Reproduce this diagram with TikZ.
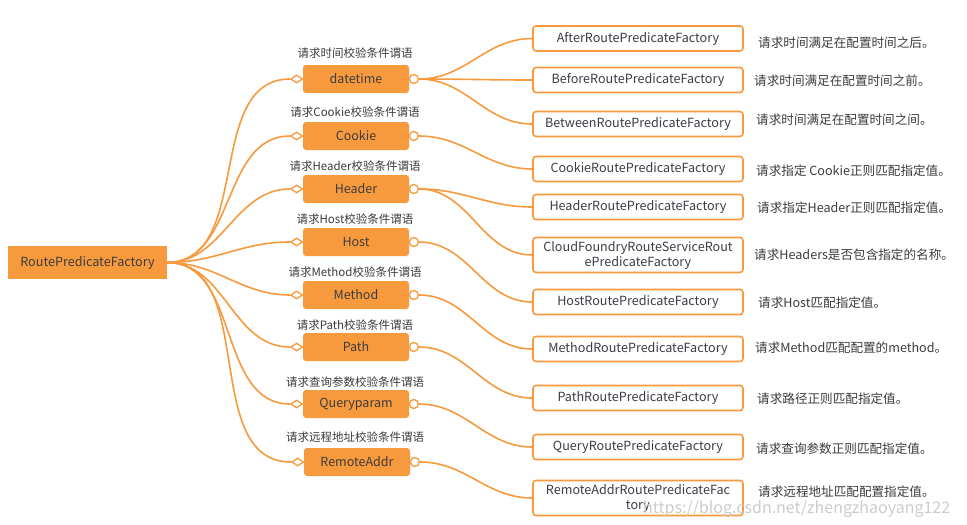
\documentclass[tikz,border=0pt]{standalone}
\usepackage{fontspec}
\setmainfont{Noto Sans CJK SC}
\usetikzlibrary{shapes.geometric,backgrounds}
\definecolor{org}{HTML}{F79A3E}
\definecolor{txt}{HTML}{3C3C3C}
\definecolor{btxt}{HTML}{3A3D48}
\begin{document}
\begin{tikzpicture}[x=1pt,y=-1pt,
 rootbox/.style={fill=org, minimum width=159pt, minimum height=33pt, inner sep=0pt, text=txt, font=\fontsize{12.6}{14}\selectfont},
 midbox/.style={fill=org, rounded corners=3pt, minimum width=106pt, minimum height=28pt, inner sep=0pt, text=txt, font=\fontsize{12.5}{15}\selectfont},
 midlabel/.style={text=txt, font=\fontsize{11.5}{14}\selectfont, inner sep=0pt},
 leafbox/.style={draw=org, line width=1.6pt, fill=white, rounded corners=3pt, minimum width=210pt, minimum height=25pt, inner sep=0pt, align=center, text=btxt, font=\fontsize{12.6}{15}\selectfont},
 desc/.style={anchor=west, text=txt, font=\fontsize{12.6}{14}\selectfont, inner sep=0pt},
 diam/.style={diamond, draw=org, fill=white, line width=1.3pt, minimum width=12pt, minimum height=8pt, inner sep=0pt, anchor=east},
 circ/.style={circle, draw=org, fill=white, line width=1.3pt, minimum size=9pt, inner sep=0pt, anchor=west},
 link/.style={draw=org, line width=1.6pt},
]
\useasboundingbox (0,0) rectangle (967,525);
\begin{scope}[on background layer]
\fill[white] (0,0) rectangle (967,525);
\end{scope}

% root
\node[rootbox] (root) at (87.5,262.5) {RoutePredicateFactory};

% middle column
\node[midbox] (m1) at (356,79) {datetime};
\node[midbox] (m2) at (356,136) {Cookie};
\node[midbox] (m3) at (356,189) {Header};
\node[midbox] (m4) at (356,242) {Host};
\node[midbox] (m5) at (356,295) {Method};
\node[midbox] (m6) at (356,347) {Path};
\node[midbox] (m7) at (356,404) {Queryparam};
\node[midbox] (m8) at (357,462) {RemoteAddr};

\node[midlabel] (t1) at (355,53) {请求时间校验条件谓语};
\node[midlabel] (t2) at (355,112) {请求Cookie校验条件谓语};
\node[midlabel] (t3) at (355,166) {请求Header校验条件谓语};
\node[midlabel] (t4) at (355,219) {请求Host校验条件谓语};
\node[midlabel] (t5) at (355,272) {请求Method校验条件谓语};
\node[midlabel] (t6) at (355,325) {请求Path校验条件谓语};
\node[midlabel] (t7) at (355,382) {请求查询参数校验条件谓语};
\node[midlabel] (t8) at (355,437) {请求远程地址校验条件谓语};

\foreach \i in {1,...,8}{
  \node[diam] (d\i) at ([xshift=0.5pt]m\i.west) {};
  \node[circ] (c\i) at ([xshift=-0.5pt]m\i.east) {};
}

% leaves
\node[leafbox] (l1) at (638,38.5) {AfterRoutePredicateFactory};
\node[leafbox] (l2) at (638,80) {BeforeRoutePredicateFactory};
\node[leafbox] (l3) at (638,124) {BetweenRoutePredicateFactory};
\node[leafbox] (l4) at (638,169) {CookieRoutePredicateFactory};
\node[leafbox] (l5) at (638,207) {HeaderRoutePredicateFactory};
\node[leafbox, minimum height=35pt] (l6) at (638,255) {CloudFoundryRouteServiceRout\\ePredicateFactory};
\node[leafbox] (l7) at (638,302) {HostRoutePredicateFactory};
\node[leafbox] (l8) at (638,349) {MethodRoutePredicateFactory};
\node[leafbox] (l9) at (638,398) {PathRoutePredicateFactory};
\node[leafbox] (l10) at (638,447) {QueryRoutePredicateFactory};
\node[leafbox, minimum height=35pt] (l11) at (638,498) {RemoteAddrRoutePredicateFac\\tory};

% descriptions
\node[desc] (e1) at (758,43) {请求时间满足在配置时间之后。};
\node[desc] (e2) at (754,81) {请求时间满足在配置时间之前。};
\node[desc] (e3) at (756,120) {请求时间满足在配置时间之间。};
\node[desc] (e4) at (756,171) {请求指定 Cookie正则匹配指定值。};
\node[desc] (e5) at (757,208) {请求指定Header正则匹配指定值。};
\node[desc] (e6) at (754,255) {请求Headers是否包含指定的名称。};
\node[desc] (e7) at (758,303) {请求Host匹配指定值。};
\node[desc] (e8) at (755,348) {请求Method匹配配置的method。};
\node[desc] (e9) at (757,399) {请求路径正则匹配指定值。};
\node[desc] (e10) at (756,449) {请求查询参数正则匹配指定值。};
\node[desc] (e11) at (758,492) {请求远程地址匹配配置指定值。};

% watermark
\node[anchor=west, inner sep=0pt, text=gray!40, font=\fontsize{16}{18}\selectfont] (wm) at (643,509) {https://blog.csdn.net/zhengzhaoyang122};

% connectors
\begin{scope}[on background layer]
\foreach \i in {1,...,8}{
  \draw[link] (root.east) to[out=0,in=180] (d\i.west);
}
\draw[link] (c1.east) to[out=0,in=180] (l1.west);
\draw[link] (c1.east) to[out=0,in=180] (l2.west);
\draw[link] (c1.east) to[out=0,in=180] (l3.west);
\draw[link] (c2.east) to[out=0,in=180] (l4.west);
\draw[link] (c3.east) to[out=0,in=180] (l5.west);
\draw[link] (c3.east) to[out=0,in=180] (l6.west);
\draw[link] (c4.east) to[out=0,in=180] (l7.west);
\draw[link] (c5.east) to[out=0,in=180] (l8.west);
\draw[link] (c6.east) to[out=0,in=180] (l9.west);
\draw[link] (c7.east) to[out=0,in=180] (l10.west);
\draw[link] (c8.east) to[out=0,in=180] (l11.west);
\end{scope}
\end{tikzpicture}
\end{document}
